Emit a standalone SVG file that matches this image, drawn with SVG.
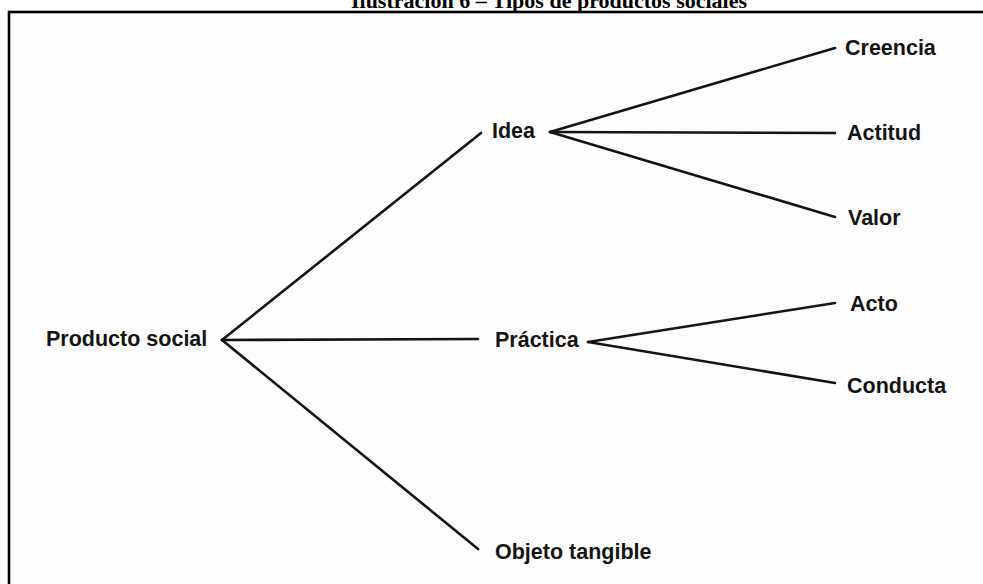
<svg xmlns="http://www.w3.org/2000/svg" width="983" height="584" viewBox="0 0 983 584">
<style>
.lbl{font-family:"Liberation Sans",Arial,sans-serif;font-weight:bold;font-size:21.5px;fill:#141414}
.ttl{font-family:"Liberation Serif","Times New Roman",serif;font-weight:bold;font-size:22px;fill:#000}
.edge{stroke:#141414;stroke-width:2.6;fill:none;stroke-linecap:round}
</style>
<rect x="0" y="0" width="983" height="584" fill="#ffffff"/>
<text class="ttl" x="549" y="8" text-anchor="middle">Ilustración 6 – Tipos de productos sociales</text>
<rect x="9" y="12" width="1000" height="600" fill="#fdfdfd" stroke="#000" stroke-width="2.6"/>
<g id="connectors">
<line class="edge" x1="222" y1="340" x2="481" y2="133"/>
<line class="edge" x1="222" y1="340" x2="478" y2="339"/>
<line class="edge" x1="222" y1="340" x2="478" y2="549"/>
<line class="edge" x1="550" y1="132" x2="835" y2="48"/>
<line class="edge" x1="550" y1="132" x2="835" y2="133"/>
<line class="edge" x1="550" y1="132" x2="835" y2="217"/>
<line class="edge" x1="588" y1="342" x2="835" y2="303"/>
<line class="edge" x1="588" y1="342" x2="835" y2="383"/>
</g>
<g id="producto-social"><text class="lbl" x="46" y="346">Producto social</text></g>
<g id="idea"><text class="lbl" x="492" y="138">Idea</text></g>
<g id="practica"><text class="lbl" x="495" y="347">Práctica</text></g>
<g id="objeto-tangible"><text class="lbl" x="495" y="559">Objeto tangible</text></g>
<g id="creencia"><text class="lbl" x="845" y="55">Creencia</text></g>
<g id="actitud"><text class="lbl" x="847" y="140">Actitud</text></g>
<g id="valor"><text class="lbl" x="848" y="225">Valor</text></g>
<g id="acto"><text class="lbl" x="850" y="311">Acto</text></g>
<g id="conducta"><text class="lbl" x="847" y="393">Conducta</text></g>
</svg>
